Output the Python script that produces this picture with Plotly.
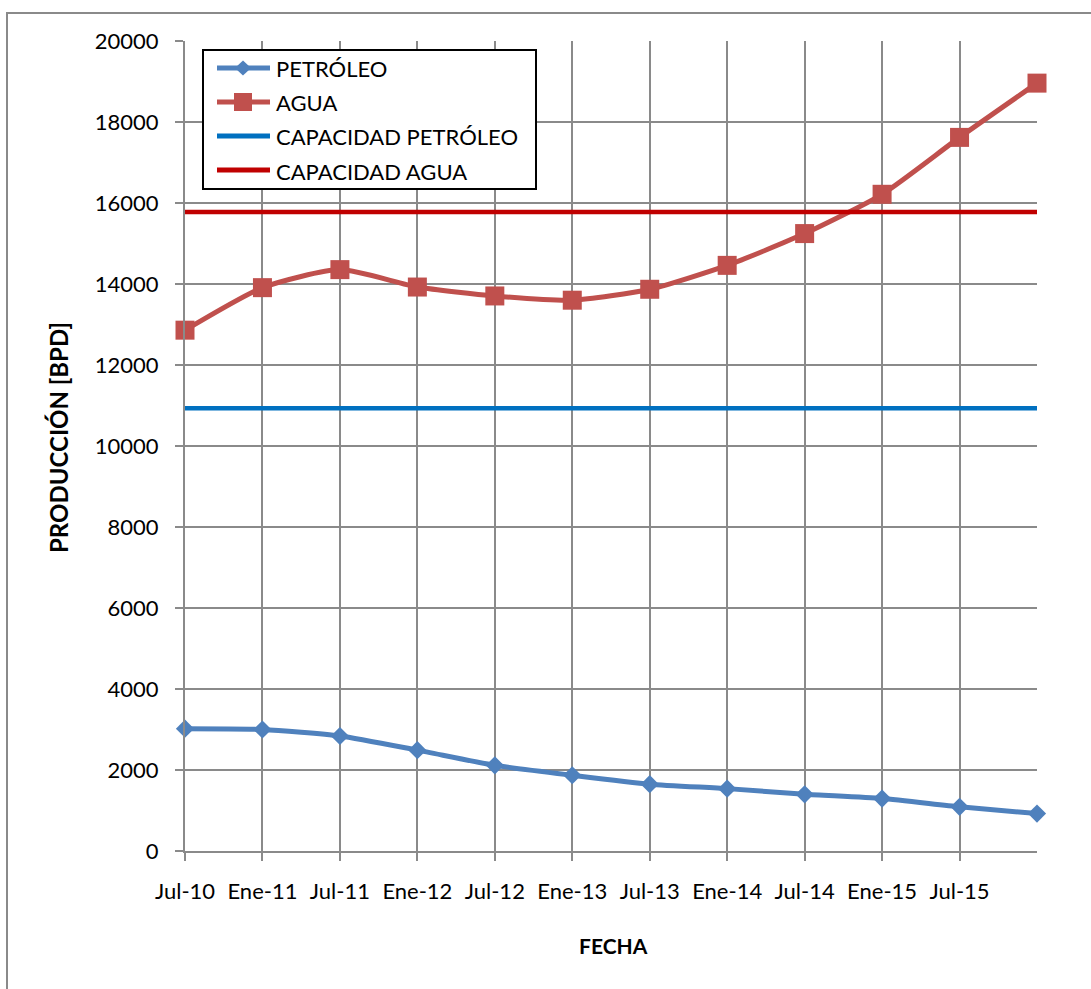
import plotly.graph_objects as go

# Fechas (semestrales) y producción
fechas = ["Jul-10", "Ene-11", "Jul-11", "Ene-12", "Jul-12", "Ene-13",
          "Jul-13", "Ene-14", "Jul-14", "Ene-15", "Jul-15", ""]
petroleo = [3020, 3000, 2840, 2490, 2115, 1870, 1650, 1540, 1400, 1295, 1090, 925]
agua = [12860, 13910, 14355, 13925, 13705, 13600, 13870, 14460, 15245, 16215, 17620, 18960]
capacidad_petroleo = 10930
capacidad_agua = 15780

series = ["PETRÓLEO", "AGUA", "CAPACIDAD PETRÓLEO", "CAPACIDAD AGUA"]
colores = ["#4F81BD", "#C0504D", "#0070C0", "#C00000"]

idx = list(range(len(fechas)))
tick_idx = idx[:-1]
tick_txt = fechas[:-1]

FONT = "Lato, Open Sans, sans-serif"
GRID = "#8a8a8a"

W, H = 1091, 989
ML, MR, MT, MB = 185, W - 1037, 41, H - 851
pw, ph = W - ML - MR, H - MT - MB


def px(x):
    return (x - ML) / pw


def py(y):
    return (H - MB - y) / ph


fig = go.Figure()

fig.add_trace(go.Scatter(
    x=idx, y=petroleo, name=series[0], mode="lines+markers",
    line=dict(color=colores[0], width=5, shape="spline", smoothing=0.6),
    marker=dict(symbol="diamond", size=14, color=colores[0]),
    cliponaxis=False,
))
fig.add_trace(go.Scatter(
    x=idx, y=agua, name=series[1], mode="lines+markers",
    line=dict(color=colores[1], width=5, shape="spline", smoothing=0.6),
    marker=dict(symbol="square", size=19, color=colores[1]),
    cliponaxis=False,
))
fig.add_trace(go.Scatter(
    x=idx, y=[capacidad_petroleo] * len(idx), name=series[2],
    mode="lines", line=dict(color=colores[2], width=4.5),
))
fig.add_trace(go.Scatter(
    x=idx, y=[capacidad_agua] * len(idx), name=series[3],
    mode="lines", line=dict(color=colores[3], width=4.5),
))

# Leyenda dibujada a mano: recuadro, muestras y textos
shapes = [
    dict(type="rect", xref="paper", yref="paper",
         x0=px(7), x1=px(1100), y0=py(1000), y1=py(13),
         line=dict(color="#8a8a8a", width=2), fillcolor="rgba(0,0,0,0)",
         layer="below"),
    dict(type="rect", xref="paper", yref="paper",
         x0=px(203), x1=px(536), y0=py(189), y1=py(50),
         line=dict(color="black", width=2), fillcolor="white", layer="above"),
]
annotations = []
fila_y = [68, 102, 136, 170]
for nombre, color, yy in zip(series, colores, fila_y):
    shapes.append(dict(type="line", xref="paper", yref="paper",
                       x0=px(217), x1=px(270), y0=py(yy), y1=py(yy),
                       line=dict(color=color, width=5), layer="above"))
    annotations.append(dict(text=nombre, xref="paper", yref="paper",
                            x=px(274), y=py(yy + 1), xanchor="left", yanchor="middle",
                            showarrow=False, font=dict(family=FONT, size=22, color="black")))
cx = 243
# diamante de PETRÓLEO
d = [(cx - 8, 68), (cx, 60.5), (cx + 8, 68), (cx, 75.5)]
path = "M" + " L".join(f"{px(a):.5f},{py(b):.5f}" for a, b in d) + " Z"
shapes.append(dict(type="path", xref="paper", yref="paper", path=path,
                   fillcolor=colores[0], line=dict(width=0), layer="above"))
# cuadrado de AGUA
shapes.append(dict(type="rect", xref="paper", yref="paper",
                   x0=px(cx - 9), x1=px(cx + 9), y0=py(102 + 9), y1=py(102 - 9),
                   fillcolor=colores[1], line=dict(width=0), layer="above"))

annotations += [
    dict(text="<b>PRODUCCIÓN [BPD]</b>", xref="paper", yref="paper",
         x=px(58), y=py(438), textangle=-90, showarrow=False,
         font=dict(family=FONT, size=24), xanchor="center", yanchor="middle"),
    dict(text="<b>FECHA</b>", xref="paper", yref="paper",
         x=px(613), y=py(945), showarrow=False,
         font=dict(family=FONT, size=21), xanchor="center", yanchor="middle"),
]

fig.update_layout(
    width=W, height=H,
    margin=dict(l=ML, r=MR, t=MT, b=MB),
    paper_bgcolor="white", plot_bgcolor="white",
    font=dict(family=FONT, size=22, color="black"),
    showlegend=False,
    xaxis=dict(
        range=[0, 11], tickmode="array", tickvals=tick_idx, ticktext=tick_txt,
        showgrid=True, gridcolor=GRID, gridwidth=2,
        showline=True, linecolor=GRID, linewidth=2,
        ticks="outside", ticklen=8, tickwidth=2, tickcolor=GRID,
        ticklabelstandoff=12, zeroline=False,
        tickfont=dict(family=FONT, size=22),
    ),
    yaxis=dict(
        range=[0, 20000], dtick=2000, tickformat="d",
        showgrid=True, gridcolor=GRID, gridwidth=2,
        showline=True, linecolor=GRID, linewidth=2,
        ticks="outside", ticklen=8, tickwidth=2, tickcolor=GRID,
        ticklabelstandoff=12, zeroline=False,
        tickfont=dict(family=FONT, size=22),
    ),
    annotations=annotations,
    shapes=shapes,
)

fig.write_html("out.html")
